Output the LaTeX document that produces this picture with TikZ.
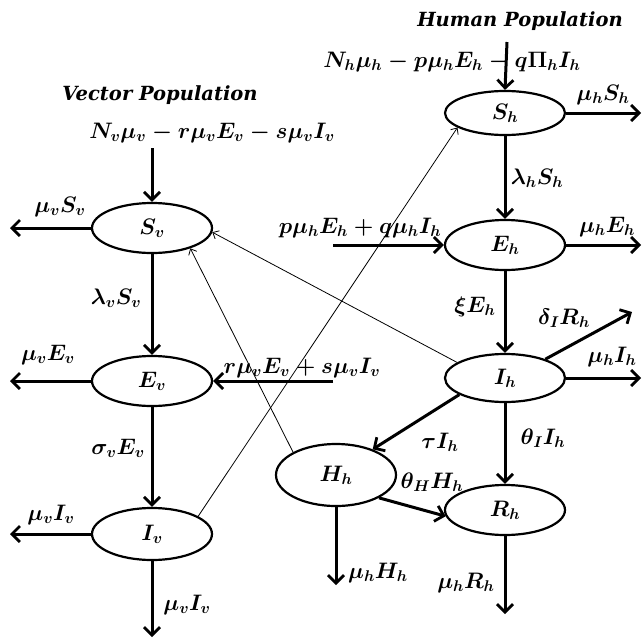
\documentclass[tikz,border=0pt]{standalone}
\usepackage{fontspec}
\usepackage{amsmath}
\usepackage{graphicx}
\newfontfamily\titlefont{DejaVu Serif}
\newcommand{\lbl}[1]{\scalebox{1.08}{$#1$}}
\usetikzlibrary{arrows.meta,shapes.geometric}
\tikzset{
  comp/.style={ellipse, draw, line width=2.2pt, minimum width=120pt, minimum height=50pt, inner sep=0pt, font=\fontsize{20.74}{25}\selectfont\boldmath},
  flow/.style={line width=3pt, -{Straight Barb[length=8pt,width=16pt,line width=2.8pt]}},
  thin/.style={line width=0.8pt, -{Straight Barb[length=5pt,width=9pt,line width=0.8pt]}},
  lab/.style={font=\fontsize{20.74}{25}\selectfont\boldmath, inner sep=0pt},
  ttl/.style={font=\titlefont\bfseries\itshape\fontsize{19.5}{23}\selectfont, inner sep=0pt}
}
\begin{document}
\begin{tikzpicture}[x=1pt,y=-1pt]
\useasboundingbox (0,0) rectangle (643,640);
% human compartments
\node[comp, minimum height=44pt] (Sh) at (505,113) {\lbl{S_h}};
\node[comp, minimum height=50pt] (Eh) at (505,245) {\lbl{E_h}};
\node[comp, minimum height=48pt] (Ih) at (505,378) {\lbl{I_h}};
\node[comp, minimum height=62pt] (Hh) at (336,475) {\lbl{H_h}};
\node[comp, minimum height=50pt] (Rh) at (505,510) {\lbl{R_h}};
% vector compartments
\node[comp] (Sv) at (152,228) {\lbl{S_v}};
\node[comp] (Ev) at (152,381) {\lbl{E_v}};
\node[comp, minimum height=52pt] (Iv) at (152,534) {\lbl{I_v}};
% titles
\node[ttl] (th) at (520,21) {Human Population};
\node[ttl] (tv) at (160,95) {Vector Population};
% free ends
\coordinate (inSh) at (507,42);
\coordinate (outSh) at (641,113);
\coordinate (inEh) at (333,245);
\coordinate (outEh) at (641,245);
\coordinate (outIhd) at (632,312);
\coordinate (outIh) at (641,378);
\coordinate (outHh) at (336,585);
\coordinate (outRh) at (505,614);
\coordinate (inSv) at (152,148);
\coordinate (outSv) at (10,228);
\coordinate (outEv) at (10,381);
\coordinate (inEv) at (333,381);
\coordinate (outIv) at (10,534);
\coordinate (outIvd) at (152,637);
% human flows
\draw[flow] (inSh) -- (Sh.north);
\draw[flow] (Sh.east) -- (outSh);
\draw[flow] (Sh.south) -- (Eh.north);
\draw[flow] (inEh) -- (Eh.west);
\draw[flow] (Eh.east) -- (outEh);
\draw[flow] (Eh.south) -- (Ih.north);
\draw[flow] (Ih.25) -- (outIhd);
\draw[flow] (Ih.east) -- (outIh);
\draw[flow] (Ih.200) -- (Hh.35);
\draw[flow] (Ih.south) -- (Rh.north);
\draw[flow] (Hh.-28) -- (Rh.186);
\draw[flow] (Hh.south) -- (outHh);
\draw[flow] (Rh.south) -- (outRh);
% vector flows
\draw[flow] (inSv) -- (Sv.north);
\draw[flow] (Sv.west) -- (outSv);
\draw[flow] (Sv.south) -- (Ev.north);
\draw[flow] (Ev.west) -- (outEv);
\draw[flow] (inEv) -- (Ev.east);
\draw[flow] (Ev.south) -- (Iv.north);
\draw[flow] (Iv.west) -- (outIv);
\draw[flow] (Iv.south) -- (outIvd);
% cross infections
\draw[thin] (Ih.162) -- (Sv.-4);
\draw[thin] (Hh.152) -- (Sv.-28);
\draw[thin] (Iv.21) -- (Sh.197);
% labels
\node[lab] (l1) at (452,62) {\lbl{N_h\mu_h - p\mu_hE_h - q\Pi_hI_h}};
\node[lab] (l2) at (603,95) {\lbl{\mu_hS_h}};
\node[lab] (l3) at (537,178) {\lbl{\lambda_hS_h}};
\node[lab] (l4) at (360,228) {\lbl{p\mu_hE_h + q\mu_hI_h}};
\node[lab] (l5) at (607,227) {\lbl{\mu_hE_h}};
\node[lab] (l6) at (475,307) {\lbl{\xi E_h}};
\node[lab] (l7) at (564,318) {\lbl{\delta_IR_h}};
\node[lab] (l8) at (612,357) {\lbl{\mu_hI_h}};
\node[lab] (l9) at (440,442) {\lbl{\tau I_h}};
\node[lab] (l10) at (543,438) {\lbl{\theta_II_h}};
\node[lab] (l11) at (432,482) {\lbl{\theta_HH_h}};
\node[lab] (l12) at (378,573) {\lbl{\mu_hH_h}};
\node[lab] (l13) at (466,583) {\lbl{\mu_hR_h}};
\node[lab] (l14) at (212,133) {\lbl{N_v\mu_v - r\mu_vE_v - s\mu_vI_v}};
\node[lab] (l15) at (60,207) {\lbl{\mu_vS_v}};
\node[lab] (l16) at (116,298) {\lbl{\lambda_vS_v}};
\node[lab] (l17) at (48,355) {\lbl{\mu_vE_v}};
\node[lab] (l18) at (302,368) {\lbl{r\mu_vE_v + s\mu_vI_v}};
\node[lab] (l19) at (118,448) {\lbl{\sigma_vE_v}};
\node[lab] (l20) at (51,515) {\lbl{\mu_vI_v}};
\node[lab] (l21) at (187,605) {\lbl{\mu_vI_v}};
\end{tikzpicture}
\end{document}
